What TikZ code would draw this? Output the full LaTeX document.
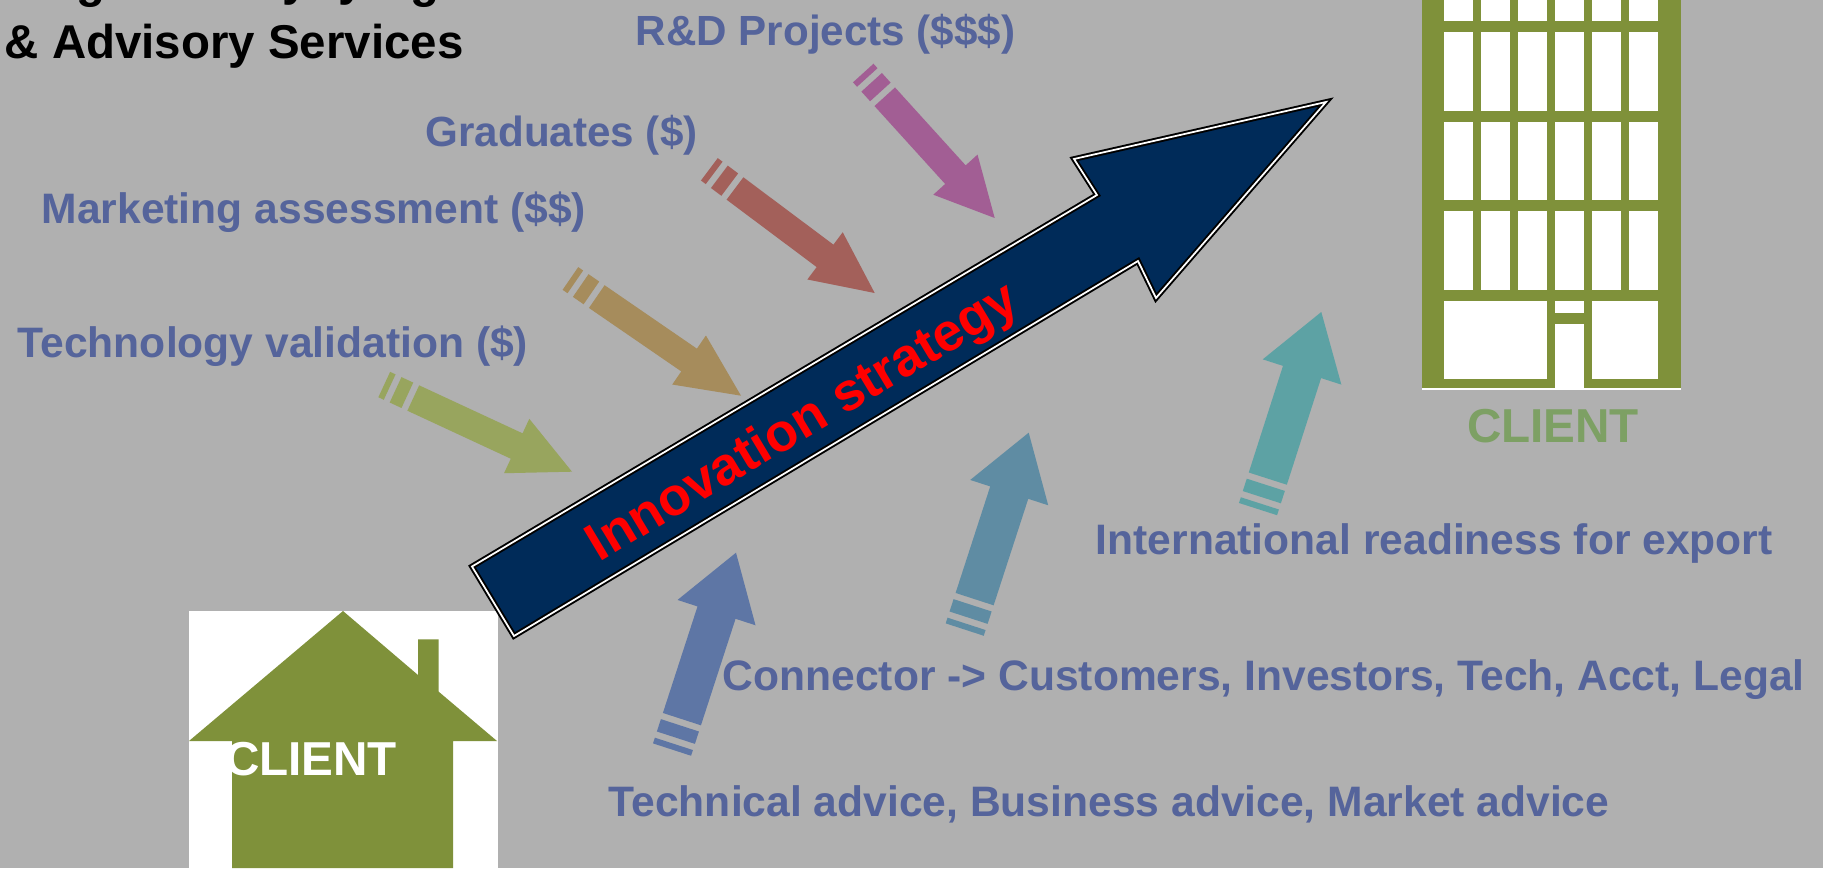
\documentclass[tikz,border=0pt]{standalone}
\usepackage{fontspec}
\setmainfont{Liberation Sans}
\usepackage{tikz}

\definecolor{backgray}{RGB}{176,176,176}
\definecolor{navy}{RGB}{0,43,89}
\definecolor{olive}{RGB}{127,145,58}
\definecolor{labelblue}{RGB}{85,100,155}
\definecolor{clientgreen}{RGB}{125,160,100}
\definecolor{arrowgreen}{RGB}{152,165,94}
\definecolor{arrowtan}{RGB}{166,140,92}
\definecolor{arrowred}{RGB}{163,96,90}
\definecolor{arrowpurple}{RGB}{162,94,148}
\definecolor{arrowblue}{RGB}{94,118,165}
\definecolor{arrowsteel}{RGB}{95,140,163}
\definecolor{arrowteal}{RGB}{93,162,164}

\tikzset{
  service/.style={anchor=base west, inner sep=0pt, font=\fontsize{12.12}{14}\selectfont\bfseries, text=labelblue},
  shortservice/.style={service, font=\fontsize{12}{14}\selectfont\bfseries},
  heading/.style={anchor=base west, inner sep=0pt, font=\fontsize{13.5}{16}\selectfont\bfseries},
  client/.style={inner sep=0pt, font=\fontsize{13.55}{16}\selectfont\bfseries},
  windowbox/.style={fill=white}
}

\begin{document}
\begin{tikzpicture}

\fill[backgray] (0,0) rectangle (18.23,8.68);
\useasboundingbox (0,0) rectangle (18.23,8.68);

% house
\fill[white] (1.89,0) rectangle (4.98,2.57);
\fill[olive] (2.32,0) -- (2.32,1.27) -- (1.89,1.27) -- (3.43,2.57) -- (4.18,1.93) -- (4.18,2.287)
  -- (4.387,2.287) -- (4.387,1.763) -- (4.97,1.27) -- (4.53,1.27) -- (4.53,0) -- cycle;

% building
\fill[olive] (14.22,4.80) rectangle (16.807,8.68);
\foreach \col in {0,...,5}
  \foreach \row/\ylow/\yhigh in {0/8.47/8.68, 1/7.573/8.357, 2/6.677/7.46, 3/5.783/6.567}
    \fill[windowbox] ({14.443+.37*\col},\ylow) rectangle ({14.733+.37*\col},\yhigh);
\fill[windowbox] (14.443,4.887) rectangle (15.473,5.67);
\fill[windowbox] (15.923,4.887) rectangle (16.583,5.67);
\fill[windowbox] (15.553,5.553) rectangle (15.84,5.67);
\fill[windowbox] (15.553,4.80) rectangle (15.84,5.443);
\fill[white] (14.22,4.785) rectangle (16.807,4.80);

% small arrows
\foreach \tipx/\tipy/\ang/\len/\hw/\sw/\hl/\colr in {
  5.72/3.963/-24.9/1.75/.60/.28/.61/arrowgreen,
  7.41/4.723/-34.5/1.75/.595/.276/.63/arrowtan,
  8.747/5.75/-36.8/1.745/.59/.28/.62/arrowred,
  9.947/6.50/-47.8/1.637/.597/.277/.585/arrowpurple,
  7.36/3.153/72/1.75/.82/.40/.63/arrowblue,
  10.287/4.353/72/1.75/.82/.40/.63/arrowsteel,
  13.213/5.56/72.2/1.75/.826/.40/.63/arrowteal}
{
  \begin{scope}[shift={(\tipx,\tipy)},rotate=\ang]
    \fill[\colr] (0,0) -- (-\hl,\hw/2) -- (-\hl,\sw/2) -- (-\len,\sw/2) -- (-\len,-\sw/2)
      -- (-\hl,-\sw/2) -- (-\hl,-\hw/2) -- cycle;
    \fill[\colr] ({-\len-.065},-\sw/2) rectangle ({-\len-.195},\sw/2);
    \fill[\colr] ({-\len-.26},-\sw/2) rectangle ({-\len-.32},\sw/2);
  \end{scope}
}

% big arrow
\draw[fill=navy, draw=black, line width=.55pt, double=white, double distance=.5pt]
  (4.72,3.015) -- (10.97,6.73) -- (10.74,7.09) -- (13.26,7.66) -- (11.56,5.70) -- (11.38,6.07) -- (5.14,2.32) -- cycle;
\node (strategy) at (8.04,4.44) [rotate=31, inner sep=0pt, text=red, font=\fontsize{15.2}{18}\selectfont\bfseries] {Innovation strategy};

% labels
\node (gone1) at (.76,8.70) [heading] {g};
\node (gone2) at (2.82,8.72) [heading] {y};
\node (gone3) at (3.38,8.72) [heading] {y};
\node (gone4) at (4.10,8.70) [heading] {g};
\node (advisory) at (.04,8.09) [heading] {\& Advisory Services};
\node (rnd) at (6.35,8.22) [shortservice] {R\&D Projects (\$\$\$)};
\node (grads) at (4.25,7.21) [shortservice] {Graduates (\$)};
\node (market) at (.41,6.44) [service] {Marketing assessment (\$\$)};
\node (tech) at (.17,5.11) [service] {Technology validation (\$)};
\node (export) at (10.95,3.13) [service] {International readiness for export};
\node (connect) at (7.22,1.78) [service] {Connector -> Customers, Investors, Tech, Acct, Legal};
\node (advice) at (6.08,.52) [service] {Technical advice, Business advice, Market advice};
\node (house) at (3.11,1.09) [client, text=white] {CLIENT};
\node (tower) at (15.53,4.42) [client, text=clientgreen] {CLIENT};

\end{tikzpicture}
\end{document}
